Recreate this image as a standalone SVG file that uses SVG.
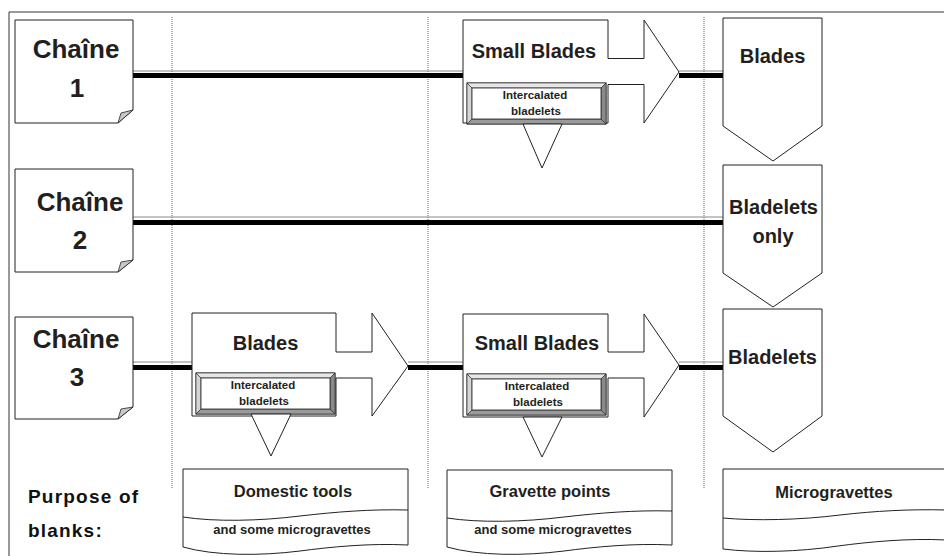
<svg xmlns="http://www.w3.org/2000/svg" width="944" height="556" viewBox="0 0 944 556">
<defs>
<style>
.frame{fill:none;stroke:#333;stroke-width:1}
.guide{fill:none;stroke:#666;stroke-width:1;stroke-dasharray:1 1}
.box{fill:#fff;stroke:#222;stroke-width:1}
.fold{fill:#c8c8c8;stroke:#222;stroke-width:0.8}
.thin{fill:none;stroke:#888;stroke-width:1}
.thick{fill:none;stroke:#000;stroke-width:5}
.t{font-family:"Liberation Sans",Arial,sans-serif;font-weight:bold;fill:#231f20;text-anchor:middle}
.big{font-size:26px}
.mid{font-size:20px}
.sm{font-size:11.5px}
.doc{font-size:16.5px}
.sub{font-size:13px}
.lbl{font-family:"Liberation Sans",Arial,sans-serif;font-weight:bold;fill:#111;font-size:19px;letter-spacing:1.2px}
.bt{fill:#e6e6e6;stroke:#222;stroke-width:0.6}
.bl{fill:#d4d4d4;stroke:#222;stroke-width:0.6}
.br{fill:#8a8a8a;stroke:#222;stroke-width:0.6}
.bb{fill:#9a9a9a;stroke:#222;stroke-width:0.6}
.bi{fill:#fff;stroke:#222;stroke-width:0.8}
</style>
<g id="bevel">
<rect x="0" y="0" width="139" height="41" fill="#bbb" stroke="#222" stroke-width="1"/>
<polygon class="bt" points="0,0 139,0 134,5 5,5"/>
<polygon class="bl" points="0,0 5,5 5,36 0,41"/>
<polygon class="br" points="139,0 139,41 134,36 134,5"/>
<polygon class="bb" points="0,41 139,41 134,36 5,36"/>
<rect class="bi" x="5" y="5" width="129" height="31"/>
</g>
</defs>
<rect width="944" height="556" fill="#fff"/>
<g id="frame">
<path class="frame" d="M9,556 V12 H944"/>
<path class="guide" d="M172,17 V489 M428,17 V489 M704,17 V489"/>
</g>
<g id="connectors">
<path class="thin" d="M133,71 H463 M679,71 H723"/>
<path class="thick" d="M133,75.5 H463 M679,75.5 H723"/>
<path class="thin" d="M133,217 H723"/>
<path class="thick" d="M133,222.5 H723"/>
<path class="thin" d="M133,362 H192 M408,362 H463 M679,362 H723"/>
<path class="thick" d="M133,367.5 H192 M408,367.5 H463 M679,367.5 H723"/>
</g>
<g id="chaine1">
<path class="box" d="M15,20 H133 V110 L118,123 H15 Z"/>
<polygon class="fold" points="118,123 121,113 133,110"/>
<text class="t big" x="76" y="58">Chaîne</text>
<text class="t big" x="77" y="97">1</text>
</g>
<g id="chaine2">
<path class="box" d="M15,169 H133 V260 L118,272 H15 Z"/>
<polygon class="fold" points="118,272 121,262 133,260"/>
<text class="t big" x="80" y="211">Chaîne</text>
<text class="t big" x="80" y="249">2</text>
</g>
<g id="chaine3">
<path class="box" d="M15,317 H133 V407 L118,419 H15 Z"/>
<polygon class="fold" points="118,419 121,409 133,407"/>
<text class="t big" x="76" y="348">Chaîne</text>
<text class="t big" x="77" y="386">3</text>
</g>
<g id="smallblades1">
<path class="box" d="M463,20 H608 V58.5 H644 V20 L679,72 L644,123 V84.5 H608 V123 H463 Z"/>
<text class="t mid" x="534" y="58">Small Blades</text>
<use href="#bevel" x="467" y="83"/>
<text class="t sm" x="535" y="99">Intercalated</text>
<text class="t sm" x="536" y="115">bladelets</text>
<polygon class="box" points="523,124 562,124 542,168"/>
</g>
<g id="blades3">
<path class="box" d="M192,313 H336 V352 H372 V313 L408,366 L372,416 V378 H336 V416 H192 Z"/>
<text class="t mid" x="265.5" y="350">Blades</text>
<use href="#bevel" x="196" y="373"/>
<text class="t sm" x="263" y="389">Intercalated</text>
<text class="t sm" x="264" y="405">bladelets</text>
<polygon class="box" points="251,414 291,414 271,456"/>
</g>
<g id="smallblades3">
<path class="box" d="M463,314 H608 V352 H644 V314 L679,365 L644,417 V378 H608 V417 H463 Z"/>
<text class="t mid" x="537" y="350">Small Blades</text>
<use href="#bevel" x="467" y="374"/>
<text class="t sm" x="537" y="390">Intercalated</text>
<text class="t sm" x="538" y="406">bladelets</text>
<polygon class="box" points="523,417 562,417 542,457"/>
</g>
<g id="result1">
<path class="box" d="M723,18 H822 V126 L773,161 L723,126 Z"/>
<text class="t mid" x="772.5" y="63">Blades</text>
</g>
<g id="result2">
<path class="box" d="M723,165 H822 V273 L773,307 L723,273 Z"/>
<text class="t mid" x="773.5" y="214">Bladelets</text>
<text class="t mid" x="773" y="243">only</text>
</g>
<g id="result3">
<path class="box" d="M723,309 H822 V416 L773,452 L723,416 Z"/>
<text class="t mid" x="772.5" y="364">Bladelets</text>
</g>
<g id="purpose">
<text class="lbl" x="28" y="503">Purpose of</text>
<text class="lbl" x="28" y="537">blanks:</text>
</g>
<g id="doc1">
<path class="box" d="M183,469 H408 V545 C370,543 330,547 300,551 C260,556 215,556 183,547 Z"/>
<path class="box" fill="none" d="M183,517 C215,522 260,521 300,516 C335,512 370,509 408,510"/>
<text class="t doc" x="293" y="497">Domestic tools</text>
<text class="t sub" x="292" y="534">and some microgravettes</text>
</g>
<g id="doc2">
<path class="box" d="M447,470 H672 V545 C634,543 594,547 564,551 C524,556 479,556 447,547 Z"/>
<path class="box" fill="none" d="M447,518 C479,523 524,522 564,517 C599,513 634,510 672,511"/>
<text class="t doc" x="550" y="497">Gravette points</text>
<text class="t sub" x="553" y="534">and some microgravettes</text>
</g>
<g id="doc3">
<path class="box" d="M723,469 H946 V540 C908,538 868,542 838,546 C798,552 755,553 723,549 Z"/>
<path class="box" fill="none" d="M723,518 C755,521 800,520 840,515 C875,511 910,509 946,510"/>
<text class="t doc" x="834" y="498">Microgravettes</text>
</g>
</svg>
